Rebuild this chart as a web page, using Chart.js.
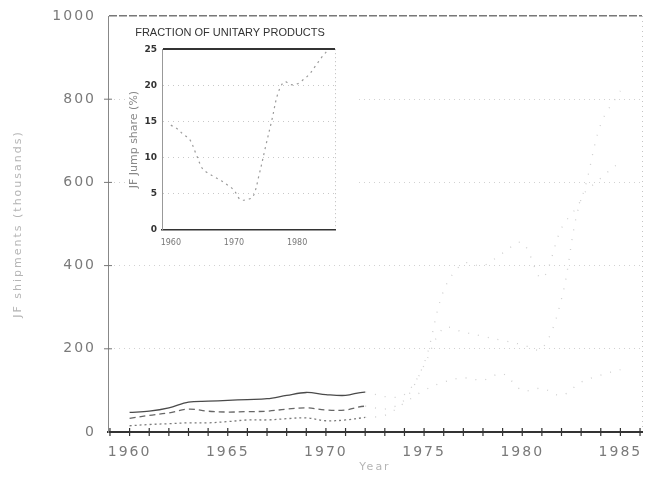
<!DOCTYPE html>
<html>
<head>
<meta charset="utf-8">
<script src="https://cdn.jsdelivr.net/npm/chart.js@4.4.0/dist/chart.umd.min.js"></script>
<style>
  body { margin: 0; background: #fff; }
  #wrap { position: relative; width: 659px; height: 480px; }
  #main { position: absolute; left: 0; top: 0; }
  #inset { position: absolute; left: 125px; top: 22px; background: #fff; }
</style>
</head>
<body>
<div id="wrap">
  <canvas id="main" width="659" height="480"></canvas>
  <canvas id="inset" width="230" height="232"></canvas>
</div>
<script>
// Datos (valores estimados)
const years = [1960, 1961, 1962, 1963, 1964, 1965, 1966, 1967, 1968, 1969, 1970, 1971, 1972,
               1973, 1974, 1975, 1976, 1977, 1978, 1979, 1980, 1981, 1982, 1983, 1984, 1985];
const totalShip = [47, 50, 58, 72, 74, 76, 78, 80, 88, 95, 90, 88, 96,
                   85, 90, 165, 340, 405, 400, 430, 455, 370, 490, 560, 740, 820];
const middleShip = [33, 40, 46, 55, 50, 48, 49, 50, 55, 58, 53, 53, 62,
                    55, 77, 160, 250, 240, 230, 220, 210, 200, 320, 560, 610, 650];
const lowerShip = [15, 18, 20, 22, 22, 25, 29, 29, 32, 34, 27, 29, 35,
                   40, 70, 100, 120, 130, 125, 140, 100, 105, 88, 120, 137, 150];
const unitaryShare = [14.5, 14, 13.2, 12.5, 10.5, 8.5, 7.8, 7.3, 6.8, 6.2, 5.5, 4.2, 4.2,
                      4.6, 7.7, 11.5, 15.2, 19, 20.5, 20.1, 20.2, 20.8, 21.6, 22.8, 24, 25];

const mainXLabels = [1960, 1965, 1970, 1975, 1980, 1985];
const mainYTicks = [0, 200, 400, 600, 800, 1000];
const insetXLabels = [1960, 1970, 1980];
const insetYTicks = [0, 5, 10, 15, 20, 25];

const xMin = 1958.9, xMax = 1986.1;
// los tramos despues de 1972 salen muy desvanecidos en el original
const fadeFrom = 12;

function puntos(serie) {
  return years.map((y, i) => ({ x: y, y: serie[i] }));
}

function linea(label, serie, color, dash) {
  return {
    label: label,
    data: puntos(serie),
    borderColor: color,
    borderWidth: 1.3,
    borderDash: dash,
    pointRadius: 0,
    tension: 0.35,
    segment: {
      borderColor: ctx => ctx.p0DataIndex >= fadeFrom ? '#cfcfcf' : undefined,
      borderDash: ctx => ctx.p0DataIndex >= fadeFrom ? [1, 9] : undefined
    }
  };
}

// marcas "+" sobre los ejes
const cruces = {
  id: 'cruces',
  afterDraw(chart) {
    const c = chart.ctx, xs = chart.scales.x, ys = chart.scales.y;
    c.save();
    c.strokeStyle = '#333';
    c.lineWidth = 1.2;
    for (let yr = 1959; yr <= 1986; yr++) {
      const px = xs.getPixelForValue(yr);
      c.beginPath(); c.moveTo(px, ys.bottom - 4); c.lineTo(px, ys.bottom + 4); c.stroke();
    }
    c.strokeStyle = '#777';
    c.lineWidth = 1;
    mainYTicks.slice(1, -1).forEach(v => {
      const py = ys.getPixelForValue(v);
      c.beginPath(); c.moveTo(xs.left - 4, py); c.lineTo(xs.left + 4, py); c.stroke();
    });
    c.restore();
  }
};

const espaciado = {
  id: 'espaciado',
  beforeDraw(chart) { chart.ctx.letterSpacing = '2px'; }
};

new Chart(document.getElementById('main'), {
  type: 'line',
  data: {
    datasets: [
      linea('Total', totalShip, '#4a4a4a', []),
      linea('Serie 2', middleShip, '#666', [6, 4]),
      linea('Serie 3', lowerShip, '#7a7a7a', [2, 3])
    ]
  },
  plugins: [cruces, espaciado],
  options: {
    responsive: false,
    animation: false,
    layout: { padding: { left: 0, right: 17, top: 16, bottom: 0 } },
    plugins: { legend: { display: false }, tooltip: { enabled: false } },
    scales: {
      x: {
        type: 'linear',
        min: xMin,
        max: xMax,
        afterBuildTicks: s => {
          s.ticks = mainXLabels.map(v => ({ value: v })).concat([{ value: xMax }]);
        },
        afterFit: s => { s.height = 48; },
        ticks: {
          autoSkip: false,
          maxRotation: 0,
          padding: 12,
          color: '#7a7a7a',
          font: { family: 'DejaVu Sans', size: 14 },
          callback: v => mainXLabels.includes(v) ? String(v) : ''
        },
        grid: {
          drawTicks: false,
          color: c => c.tick && c.tick.value === xMax ? '#c4c4c4' : 'rgba(0,0,0,0)'
        },
        border: { color: '#333', width: 2, dash: [1, 4] },
        title: {
          display: true,
          text: 'Year',
          color: '#b5b5b5',
          font: { family: 'DejaVu Sans', size: 11 },
          padding: { top: 0, bottom: 6 }
        }
      },
      y: {
        min: 0,
        max: 1000,
        afterBuildTicks: s => { s.ticks = mainYTicks.map(v => ({ value: v })); },
        afterFit: s => { s.width = 108; s.paddingTop = 0; s.paddingBottom = 0; },
        ticks: {
          padding: 12,
          color: '#7a7a7a',
          font: { family: 'DejaVu Sans', size: 14 },
          callback: v => String(v)
        },
        grid: {
          drawTicks: false,
          color: c => c.tick && c.tick.value === 1000 ? '#777' : (c.tick && c.tick.value === 0 ? 'rgba(0,0,0,0)' : '#d2d2d2'),
          lineWidth: c => c.tick && c.tick.value === 1000 ? 1.5 : 1
        },
        border: {
          color: '#888',
          width: 1,
          dash: c => c.tick && c.tick.value === 1000 ? [8, 2] : [1, 4]
        },
        title: {
          display: true,
          text: 'JF shipments (thousands)',
          color: '#b5b5b5',
          font: { family: 'DejaVu Sans', size: 11 },
          padding: { top: 12, bottom: 0 }
        }
      }
    }
  }
});

const insetMax = 1986;

new Chart(document.getElementById('inset'), {
  type: 'line',
  data: {
    datasets: [{
      label: 'Unitary share',
      data: puntos(unitaryShare),
      borderColor: '#9a9a9a',
      borderWidth: 1.2,
      borderDash: [2, 4],
      pointRadius: 0,
      tension: 0.35
    }]
  },
  options: {
    responsive: false,
    animation: false,
    layout: { padding: { left: 0, right: 20, top: 0, bottom: 0 } },
    plugins: {
      legend: { display: false },
      tooltip: { enabled: false },
      title: {
        display: true,
        text: 'FRACTION OF UNITARY PRODUCTS',
        color: '#333',
        font: { family: 'Liberation Sans', size: 11, weight: 'normal' },
        padding: { top: 4, bottom: 10 }
      }
    },
    scales: {
      x: {
        type: 'linear',
        min: 1958.6,
        max: insetMax,
        afterBuildTicks: s => {
          s.ticks = insetXLabels.map(v => ({ value: v })).concat([{ value: insetMax }]);
        },
        afterFit: s => { s.height = 24; },
        ticks: {
          autoSkip: false,
          maxRotation: 0,
          padding: 8,
          color: '#777',
          font: { family: 'DejaVu Sans', size: 8 },
          callback: v => insetXLabels.includes(v) ? String(v) : ''
        },
        grid: {
          drawTicks: false,
          color: c => c.tick && c.tick.value === insetMax ? '#bbb' : 'rgba(0,0,0,0)'
        },
        border: { color: '#333', width: 1.5, dash: [1, 3] }
      },
      y: {
        min: 0,
        max: 25,
        afterBuildTicks: s => { s.ticks = insetYTicks.map(v => ({ value: v })); },
        afterFit: s => { s.width = 37; },
        ticks: {
          padding: 5,
          color: '#333',
          font: { family: 'DejaVu Sans', size: 9, weight: 'bold' }
        },
        grid: {
          drawTicks: false,
          color: c => c.tick && c.tick.value === 25 ? '#333' : (c.tick && c.tick.value === 0 ? 'rgba(0,0,0,0)' : '#c8c8c8'),
          lineWidth: c => c.tick && c.tick.value === 25 ? 2 : 1
        },
        border: {
          color: '#999',
          width: 1,
          dash: c => c.tick && c.tick.value === 25 ? [] : [1, 4]
        },
        title: {
          display: true,
          text: 'JF Jump share (%)',
          color: '#888',
          font: { family: 'DejaVu Sans', size: 11 },
          padding: { top: 3, bottom: 0 }
        }
      }
    }
  }
});
</script>
</body>
</html>
